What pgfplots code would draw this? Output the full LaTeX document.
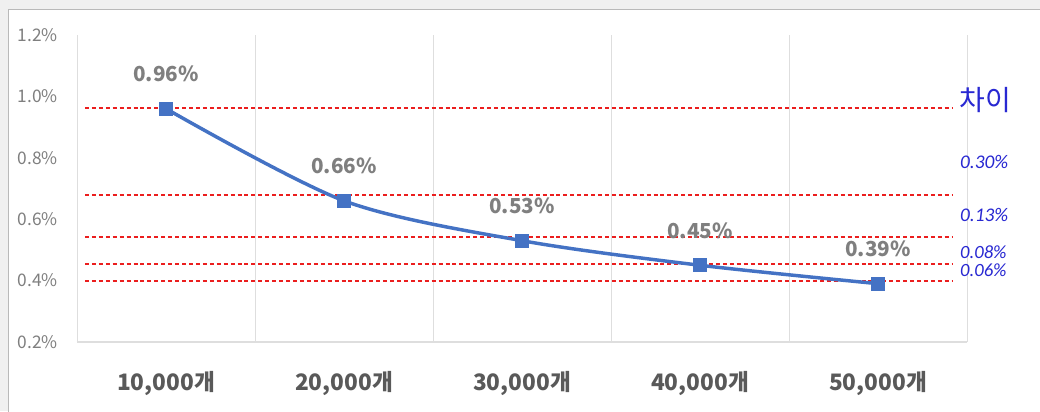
\documentclass[border=0pt]{standalone}
\usepackage{pgfplots}
\pgfplotsset{compat=1.18}
\usepackage{fontspec}
\setmainfont{Noto Sans CJK KR}
\newfontfamily\numfont{Carlito}
\definecolor{lineblue}{HTML}{4472C4}
\definecolor{annblue}{RGB}{40,40,210}
\definecolor{lblgray}{HTML}{7F7F7F}
\definecolor{darkgray}{HTML}{595959}
\definecolor{gridgray}{HTML}{DEDEDE}
\definecolor{bggray}{HTML}{F0F0F0}
\definecolor{refred}{RGB}{235,30,30}

\begin{document}
\begin{tikzpicture}
\useasboundingbox (0,0) rectangle (780pt,308.25pt);
\fill[bggray] (0,0) rectangle (780pt,308.25pt);
\filldraw[fill=white,draw=gray!55,line width=0.6pt] (6pt,-5pt) rectangle (790pt,301.5pt);
\begin{axis}[
  at={(57.75pt,51.75pt)}, anchor=south west,
  scale only axis,
  width=667.5pt, height=230.25pt,
  xmin=-0.5, xmax=4.5,
  ymin=0.2, ymax=1.2,
  clip=false,
  axis x line*=bottom, axis y line*=left,
  x axis line style={draw=gridgray,line width=1.1pt,-},
  y axis line style={draw=none},
  major tick length=0pt, minor tick length=0pt,
  xtick={0,1,2,3,4},
  xticklabels={{10,000개},{20,000개},{30,000개},{40,000개},{50,000개}},
  xticklabel style={anchor=center,yshift=-31.5pt,font=\fontsize{17}{20}\selectfont\bfseries,text=darkgray},
  minor xtick={-0.5,0.5,1.5,2.5,3.5,4.5},
  xminorgrids,
  minor x grid style={gridgray,line width=0.6pt},
  ytick={0.2,0.4,...,1.2},
  yticklabel={\pgfmathprintnumber[fixed,fixed zerofill,precision=1]{\tick}\%},
  /pgf/number format/assume math mode=true,
  yticklabel style={anchor=east,xshift=-11pt,font=\fontsize{13}{15}\selectfont,text=lblgray},
  refline/.style={draw=refred,mark=none,line width=1.3pt,dash pattern=on 3pt off 2.2pt},
]
% reference lines
\addplot[refline] coordinates {(-0.455,0.963) (4.42,0.963)};
\addplot[refline] coordinates {(-0.455,0.679) (4.42,0.679)};
\addplot[refline] coordinates {(-0.455,0.543) (4.42,0.543)};
\addplot[refline] coordinates {(-0.455,0.455) (4.42,0.455)};
\addplot[refline] coordinates {(-0.455,0.399) (4.42,0.399)};
% main series
\addplot[
  lineblue, line width=2.6pt, smooth,
  mark=square*, mark size=5pt,
  mark options={fill=lineblue,draw=lineblue,line width=0pt},
  nodes near coords={\pgfmathprintnumber[fixed,fixed zerofill,precision=2]{\pgfplotspointmeta}\%},
  point meta=y,
  every node near coord/.style={anchor=center,yshift=26pt,text=lblgray,font=\fontsize{15.5}{18}\selectfont\bfseries},
] coordinates {(0,0.96) (1,0.66) (2,0.53) (3,0.45) (4,0.39)};
% annotations
\node[anchor=west,text=annblue,font=\fontsize{21}{24}\selectfont,inner sep=0pt] at (axis cs:4.455,0.988) {차이};
\node[anchor=west,text=annblue,font=\numfont\itshape\fontsize{14.5}{16}\selectfont,inner sep=0pt] at (axis cs:4.46,0.786) {0.30\%};
\node[anchor=west,text=annblue,font=\numfont\itshape\fontsize{14.5}{16}\selectfont,inner sep=0pt] at (axis cs:4.46,0.614) {0.13\%};
\node[anchor=west,text=annblue,font=\numfont\itshape\fontsize{14}{16}\selectfont,inner sep=0pt] at (axis cs:4.46,0.492) {0.08\%};
\node[anchor=west,text=annblue,font=\numfont\itshape\fontsize{14}{16}\selectfont,inner sep=0pt] at (axis cs:4.46,0.434) {0.06\%};
\end{axis}
\end{tikzpicture}
\end{document}
